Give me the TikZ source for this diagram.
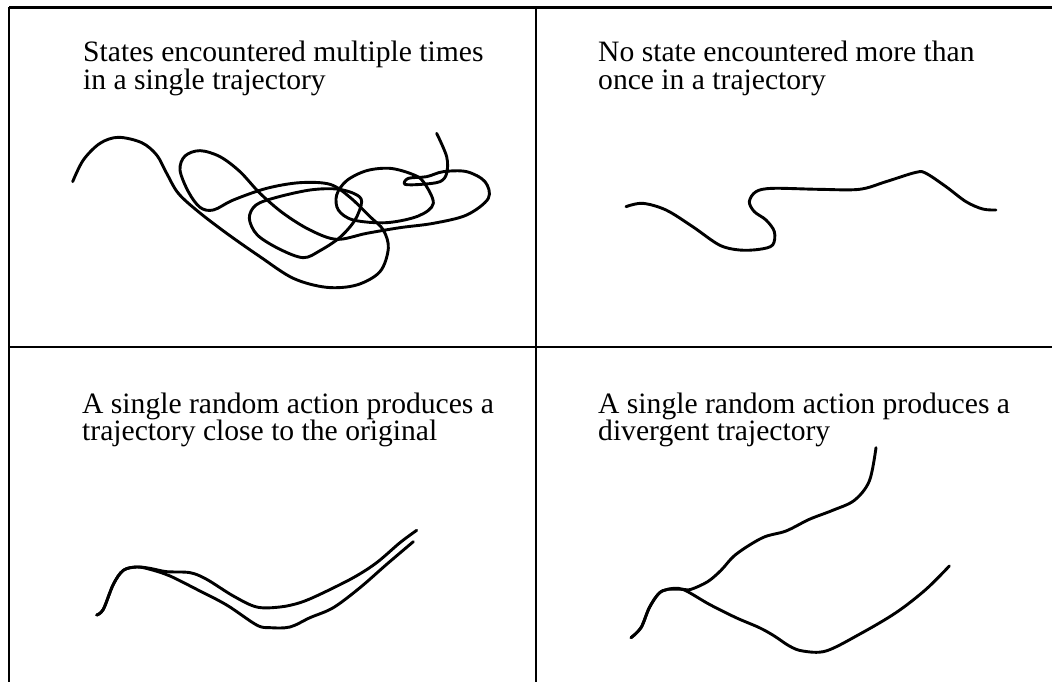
\documentclass[tikz,border=0pt]{standalone}
\usepackage{fontspec}
\setmainfont{Liberation Serif}
\begin{document}
\begin{tikzpicture}[x=1pt,y=-1pt,
  frame/.style={line width=2.6pt},
  traj/.style={line width=2.9pt, line cap=round, line join=round},
  caption/.style={anchor=base west, inner sep=0pt, font=\fontsize{29.6}{28}\selectfont}]
\useasboundingbox (0,0) rectangle (1052,682);
\fill[white] (0,0) rectangle (1052,682);
% frame
\coordinate (tl) at (9,7.5);
\coordinate (tr) at (1052,7.5);
\coordinate (bl) at (9,682);
\coordinate (mt) at (536,7.5);
\coordinate (mb) at (536,682);
\coordinate (ml) at (9,347);
\coordinate (mr) at (1052,347);
\draw[frame] (tl) -- (tr);
\draw[frame] (tl) -- (bl);
\draw[frame] (mt) -- (mb);
\draw[frame] (ml) -- (mr);
% captions
\node[caption] (t1a) at (83,62) {States encountered multiple times};
\node[caption] (t1b) at (83,90) {in a single trajectory};
\node[caption] (t2a) at (598,62) {No state encountered more than};
\node[caption] (t2b) at (598,90) {once in a trajectory};
\node[caption] (t3a) at (82,413) {A single random action produces a};
\node[caption] (t3b) at (82,440) {trajectory close to the original};
\node[caption] (t4a) at (598,413) {A single random action produces a};
\node[caption] (t4b) at (598,440) {divergent trajectory};
% panel 1
\begin{scope}[x=0.33333pt, y=-0.33333pt]
\draw[traj] plot[smooth, tension=0.55] coordinates {
 (218,545) (250,480) (300,430) (355,412) (425,428) (470,465) (500,520) (535,580)
 (595,635) (680,700) (780,770) (880,835) (980,862) (1070,855) (1140,815) (1165,745)
 (1150,690) (1110,650) (1050,592) (990,553) (900,548) (800,565) (700,600) (640,630)
 (600,622) (565,575) (540,510) (555,468) (600,452) (660,470) (720,515) (780,580)
 (850,640) (930,690) (1010,718) (1100,700) (1200,683) (1300,670) (1400,645)
 (1465,595) (1455,545) (1400,515) (1330,515) (1280,530) (1225,535) (1215,553)
 (1265,553) (1320,545) (1340,520) (1340,470) (1310,400)};
\draw[traj] plot[smooth cycle, tension=0.55] coordinates {
 (1085,605) (1065,660) (1020,712) (960,752) (910,773) (840,748) (772,705)
 (748,655) (768,615) (830,592) (930,570) (1010,567) (1065,582)};
\draw[traj] plot[smooth cycle, tension=0.55] coordinates {
 (1270,545) (1300,610) (1255,648) (1160,668) (1060,660) (1015,630)
 (1010,585) (1040,542) (1100,512) (1170,505) (1235,522)};
\end{scope}
% panel 2
\begin{scope}[xshift=526pt, x=0.33333pt, y=-0.33333pt]
\draw[traj] plot[smooth, tension=0.55] coordinates {
 (300,620) (350,610) (420,630) (500,680) (580,735) (640,750) (700,748) (740,735)
 (745,695) (720,660) (685,635) (670,605) (690,575) (740,565) (880,568) (1000,568)
 (1080,545) (1170,517) (1200,520) (1260,560) (1320,605) (1370,627) (1410,630)};
\end{scope}
% panel 3
\begin{scope}[yshift=-341pt, x=0.33333pt, y=-0.33333pt]
\draw[traj] plot[smooth, tension=0.55] coordinates {
 (290,822) (310,805) (340,730) (370,688) (410,678) (450,682) (500,692) (570,695)
 (620,715) (700,765) (770,798) (840,798) (900,785) (960,760) (1060,710) (1130,665)
 (1200,605) (1250,568)};
\draw[traj] plot[smooth, tension=0.55] coordinates {
 (290,822) (310,805) (340,730) (370,688) (410,678) (450,685) (510,705) (590,745)
 (680,792) (770,852) (810,860) (870,858) (930,830) (1000,800) (1080,740) (1160,670)
 (1240,602)};
\end{scope}
% panel 4
\begin{scope}[xshift=526pt, yshift=-341pt, x=0.33333pt, y=-0.33333pt]
\draw[traj] plot[smooth, tension=0.55] coordinates {
 (315,890) (345,860) (370,800) (398,758) (425,745) (470,745) (495,745) (545,722)
 (585,688) (630,640) (710,590) (780,570) (850,535) (920,508) (985,478) (1030,420)
 (1050,320)};
\draw[traj] plot[smooth, tension=0.55] coordinates {
 (315,890) (345,860) (370,800) (398,758) (425,745) (470,745) (550,790) (630,830)
 (700,860) (745,885) (790,915) (830,930) (900,930) (1000,880) (1110,815) (1200,745)
 (1270,675)};
\end{scope}
\end{tikzpicture}
\end{document}
